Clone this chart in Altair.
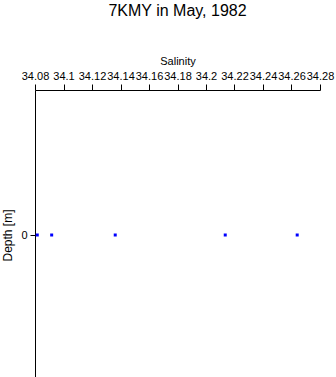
import altair as alt
import pandas as pd

salinity = [34.0816, 34.0917, 34.1363, 34.2135, 34.2640]
depth = [0, 0, 0, 0, 0]
x_ticks = [34.08, 34.10, 34.12, 34.14, 34.16, 34.18, 34.20, 34.22, 34.24, 34.26, 34.28]

df = pd.DataFrame({"Salinity": salinity, "Depth": depth})

font = "Liberation Sans"

chart = alt.Chart(df).mark_square(size=9, color="#0000ff", opacity=1).encode(
    x=alt.X("Salinity:Q",
            scale=alt.Scale(domain=[34.08, 34.28], nice=False, zero=False),
            axis=alt.Axis(orient="top", values=x_ticks, labelOverlap=False, labelFlush=False,
                          grid=False, title="Salinity", labelExpr="format(datum.value, '.4~f')",
                          domainColor="black", tickColor="black", labelColor="black",
                          titleColor="black", labelFont=font, titleFont=font,
                          labelFontSize=11, titleFontSize=11, titleFontWeight="normal",
                          tickSize=6, labelPadding=3, titlePadding=4)),
    y=alt.Y("Depth:Q",
            scale=alt.Scale(domain=[-1, 1], reverse=True, nice=False, zero=False),
            axis=alt.Axis(values=[0], grid=False, title="Depth [m]",
                          domainColor="black", tickColor="black", labelColor="black",
                          titleColor="black", labelFont=font, titleFont=font,
                          labelFontSize=11, titleFontSize=12, titleFontWeight="normal",
                          tickSize=5, labelPadding=3, titlePadding=6)),
).properties(
    width=285,
    height=290,
    title=alt.TitleParams("7KMY in May, 1982", font=font, fontSize=16, fontWeight="normal",
                          color="black", offset=36),
    autosize=alt.AutoSizeParams(type="none"),
    padding={"left": 35, "top": 90, "right": 16, "bottom": 0},
).configure_view(stroke=None)

chart.save("out.html", embed_options={"renderer": "svg", "actions": False})
